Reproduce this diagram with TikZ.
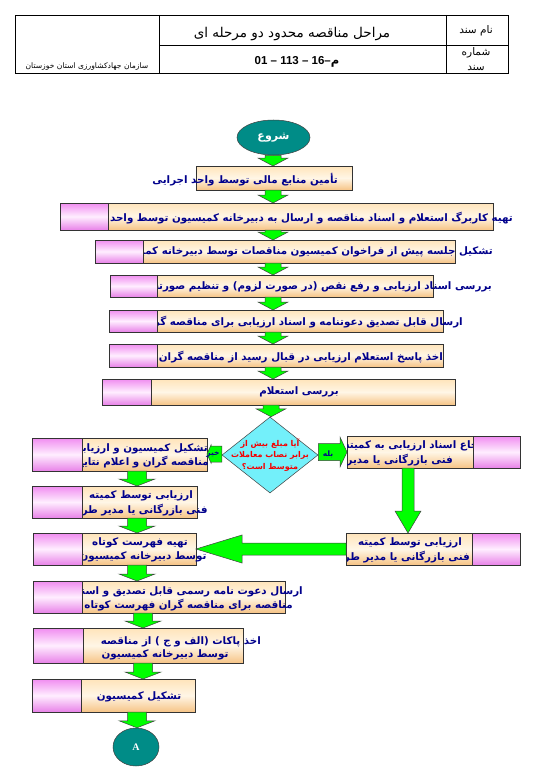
\documentclass[tikz,border=0pt]{standalone}
\usepackage{fontspec}
\usetikzlibrary{calc,fit,shapes.geometric}
\TeXXeTstate=1
\newfontfamily\arb[Script=Arabic]{DejaVu Sans}
\newfontfamily\lsans{Liberation Sans}
\newfontfamily\lserif{Liberation Serif}
\newcommand\RL[1]{{\arb\beginR #1\endR}}
\definecolor{navyt}{RGB}{0,0,140}
\definecolor{gfill}{RGB}{0,255,0}
\definecolor{tealF}{RGB}{0,140,135}
\definecolor{orT}{RGB}{255,228,186}
\definecolor{orM}{RGB}{255,246,230}
\definecolor{orB}{RGB}{246,196,134}
\definecolor{pkT}{RGB}{240,140,240}
\definecolor{pkM}{RGB}{255,238,255}
\definecolor{pkB}{RGB}{232,130,232}
\definecolor{cyanF}{RGB}{115,240,250}
\definecolor{redt}{RGB}{245,0,0}
\tikzset{
 obox/.style={draw=black!80, line width=0.6pt, top color=orT, bottom color=orB, middle color=orM, inner sep=0pt, outer sep=0pt},
 pbox/.style={draw=black!80, line width=0.6pt, top color=pkT, bottom color=pkB, middle color=pkM, inner sep=0pt, outer sep=0pt},
 garrow/.style={draw=black!75, line width=0.5pt, fill=gfill},
 txt/.style={text=navyt, font=\arb\bfseries\fontsize{10.3}{11}\selectfont, inner sep=0pt},
 hdr/.style={font=\arb\fontsize{10.5}{12}\selectfont, inner sep=0pt},
 tealshape/.style={ellipse, draw=black!75, line width=0.5pt, fill=tealF, inner sep=0pt, text=white},
}
\newcommand\gdown[6]{%
\draw[garrow] let \p0=(#1,0), \p1=(#2.south), \p2=(#3.north) in
 ({\x0-#4pt},\y1) -- ({\x0+#4pt},\y1) -- ({\x0+#4pt},{\y2+#6pt}) -- ({\x0+#5pt},{\y2+#6pt}) -- (\x0,\y2) -- ({\x0-#5pt},{\y2+#6pt}) -- ({\x0-#4pt},{\y2+#6pt}) -- cycle;}
\newcommand\gleft[6]{%
\draw[garrow] let \p0=(0,#1), \p1=(#2.west), \p2=(#3.east) in
 (\x1,{\y0+#4pt}) -- ({\x2+#6pt},{\y0+#4pt}) -- ({\x2+#6pt},{\y0+#5pt}) -- (\x2,\y0) -- ({\x2+#6pt},{\y0-#5pt}) -- ({\x2+#6pt},{\y0-#4pt}) -- (\x1,{\y0-#4pt}) -- cycle;}
\newcommand\gright[6]{%
\draw[garrow] let \p0=(0,#1), \p1=(#2.east), \p2=(#3.west) in
 (\x1,{\y0+#4pt}) -- ({\x2-#6pt},{\y0+#4pt}) -- ({\x2-#6pt},{\y0+#5pt}) -- (\x2,\y0) -- ({\x2-#6pt},{\y0-#5pt}) -- ({\x2-#6pt},{\y0-#4pt}) -- (\x1,{\y0-#4pt}) -- cycle;}
\begin{document}
\begin{tikzpicture}[x=1pt,y=-1pt]
\useasboundingbox[fill=white] (0,0) rectangle (540,781);
% header table
\draw[line width=0.7pt] (15,15) rectangle (508,73);
\draw[line width=0.7pt] (159,15) -- (159,73) (446,15) -- (446,73) (159,45) -- (508,45);
\node[hdr] (h1) at (476,31) {\RL{نام سند}};
\node[hdr] (h2) at (476,53) {\RL{شماره}};
\node[hdr] (h3) at (476,68) {\RL{سند}};
\node[hdr, font=\arb\fontsize{13.5}{15}\selectfont] (h4) at (292,34) {\RL{مراحل مناقصه محدود دو مرحله ای}};
\node[inner sep=0pt, font=\lsans\bfseries\fontsize{11.5}{13}\selectfont] (h5) at (297,62) {01 – 113 – 16–{\arb م}};
\node[hdr, font=\arb\fontsize{7.6}{9}\selectfont] (h6) at (87,67) {\RL{سازمان جهادکشاورزی استان خوزستان}};
% start
\node[tealshape, minimum width=73pt, minimum height=35pt, font=\arb\bfseries\fontsize{11}{12}\selectfont] (start) at (273.5,137.5) {\RL{شروع}};
% orange boxes
\node[obox, fit={(196,166) (352,190)}] (b1) {};
\node[obox, fit={(60,203) (493,230)}] (b2) {};
\node[obox, fit={(95,240) (455,263)}] (b3) {};
\node[obox, fit={(110,275) (433,297)}] (b4) {};
\node[obox, fit={(109,310) (443,332)}] (b5) {};
\node[obox, fit={(109,344) (443,367)}] (b6) {};
\node[obox, fit={(102,379) (455,405)}] (b7) {};
\node[obox, fit={(32,438) (207,471)}] (L1) {};
\node[obox, fit={(32,486) (197,518)}] (L2) {};
\node[obox, fit={(33,533) (196,565)}] (L3) {};
\node[obox, fit={(33,581) (285,613)}] (L4) {};
\node[obox, fit={(33,628) (243,663)}] (L5) {};
\node[obox, fit={(32,679) (195,712)}] (L6) {};
\node[obox, fit={(347,436) (473,468)}] (R1) {};
\node[obox, fit={(346,533) (472,565)}] (R2) {};
\node[diamond, draw=black!75, line width=0.5pt, fill=cyanF, minimum width=96pt, minimum height=76pt, inner sep=0pt] (dia) at (270,455) {};
% texts
\node[txt, anchor=east] (t1) at (338,180) {\RL{تأمین منابع مالی توسط واحد اجرایی}};
\begin{scope}
\clip (60,190) rectangle (540,500);
\node[txt, anchor=east] (t2) at (513,218) {\RL{تهیه کاربرگ استعلام و اسناد مناقصه و ارسال به دبیرخانه کمیسیون توسط واحد اجرایی}};
\node[txt, anchor=east] (t3) at (493,252) {\RL{تشکیل جلسه پیش از فراخوان کمیسیون مناقصات توسط دبیرخانه کمیسیون}};
\node[txt, anchor=east] (t4) at (492,287) {\RL{بررسی اسناد ارزیابی و رفع نقص (در صورت لزوم) و تنظیم صورتجلسه}};
\node[txt, anchor=east] (t5) at (463,322) {\RL{ارسال قابل تصدیق دعوتنامه و اسناد ارزیابی برای مناقصه گران}};
\node[txt, anchor=east] (t6) at (443,357) {\RL{اخذ پاسخ استعلام ارزیابی در قبال رسید از مناقصه گران}};
\end{scope}
\node[txt] (t7) at (299,392) {\RL{بررسی استعلام}};
\begin{scope}
\clip (32,430) rectangle (320,720);
\node[txt, anchor=east] (l1a) at (208,449) {\RL{تشکیل کمیسیون و ارزیابی}};
\node[txt, anchor=east] (l1b) at (209,462) {\RL{مناقصه گران و اعلام نتایج}};
\node[txt] (l2a) at (141,496) {\RL{ارزیابی توسط کمیته}};
\node[txt] (l2b) at (141,510) {\RL{فنی بازرگانی یا مدیر طرح}};
\node[txt] (l3a) at (140,543) {\RL{تهیه فهرست کوتاه}};
\node[txt] (l3b) at (143,557) {\RL{توسط دبیرخانه کمیسیون}};
\node[txt, anchor=east] (l4a) at (303,592) {\RL{ارسال دعوت نامه رسمی قابل تصدیق و اسناد}};
\node[txt, anchor=east] (l4b) at (293,605) {\RL{مناقصه برای مناقصه گران فهرست کوتاه}};
\node[txt, anchor=east] (l5a) at (261,642) {\RL{اخذ پاکات (الف و ج ) از مناقصه}};
\node[txt] (l5b) at (165,655) {\RL{توسط دبیرخانه کمیسیون}};
\node[txt] (l6a) at (139,697) {\RL{تشکیل کمیسیون}};
\end{scope}
\begin{scope}
\clip (347,430) rectangle (520,570);
\node[txt, anchor=east] (r1a) at (488,446) {\RL{ارجاع اسناد ارزیابی به کمیته}};
\node[txt, anchor=east] (r1b) at (453,460) {\RL{فنی بازرگانی یا مدیر طرح}};
\node[txt] (r2a) at (410,543) {\RL{ارزیابی توسط کمیته}};
\node[txt, anchor=east] (r2b) at (470,557) {\RL{فنی بازرگانی یا مدیر طرح}};
\end{scope}
\node[text=redt, font=\arb\bfseries\fontsize{8}{11.5}\selectfont, align=center, inner sep=0pt] (dq) at (270,455) {\RL{آیا مبلغ بیش از}\\\RL{برابر نصاب معاملات}\\\RL{متوسط است؟}};
% pink boxes
\node[pbox, fit={(60,203) (108,230)}] (p2) {};
\node[pbox, fit={(95,240) (143,263)}] (p3) {};
\node[pbox, fit={(110,275) (157,297)}] (p4) {};
\node[pbox, fit={(109,310) (157,332)}] (p5) {};
\node[pbox, fit={(109,344) (157,367)}] (p6) {};
\node[pbox, fit={(102,379) (151,405)}] (p7) {};
\node[pbox, fit={(32,438) (82,471)}] (pL1) {};
\node[pbox, fit={(32,486) (82,518)}] (pL2) {};
\node[pbox, fit={(33,533) (82,565)}] (pL3) {};
\node[pbox, fit={(33,581) (82,613)}] (pL4) {};
\node[pbox, fit={(33,628) (83,663)}] (pL5) {};
\node[pbox, fit={(32,679) (81,712)}] (pL6) {};
\node[pbox, fit={(473,436) (520,468)}] (pR1) {};
\node[pbox, fit={(472,533) (520,565)}] (pR2) {};
% end circle
\node[tealshape, minimum width=46pt, minimum height=38pt, font=\lserif\bfseries\fontsize{10}{12}\selectfont] (A) at (136,747) {A};
% arrows
\gdown{273}{start}{b1}{8}{15}{8}
\gdown{273}{b1}{b2}{8}{15}{8}
\gdown{273}{b2}{b3}{8}{15}{8}
\gdown{273}{b3}{b4}{8}{15}{8}
\gdown{273}{b4}{b5}{8}{15}{8}
\gdown{273}{b5}{b6}{8}{15}{8}
\gdown{273}{b6}{b7}{8}{15}{8}
\gdown{271}{b7}{dia}{8}{15}{8}
\gleft{454}{dia}{L1}{8}{9}{4}
\gright{452}{dia}{R1}{8.5}{15}{7}
\gdown{408}{R1}{R2}{6}{13}{22}
\gleft{549}{R2}{L3}{6}{14}{46}
\gdown{137}{L1}{L2}{9.5}{18}{7}
\gdown{137}{L2}{L3}{9.5}{18}{7}
\gdown{137}{L3}{L4}{9.5}{18}{7}
\gdown{143}{L4}{L5}{9.5}{18}{7}
\gdown{143}{L5}{L6}{9.5}{18}{7}
\gdown{137}{L6}{A}{9.5}{18}{7}
\node[txt, font=\arb\bfseries\fontsize{7.5}{8}\selectfont] (no) at (213,454) {\RL{خیر}};
\node[txt, font=\arb\bfseries\fontsize{7.5}{8}\selectfont] (yes) at (328,454) {\RL{بله}};
\end{tikzpicture}
\end{document}
